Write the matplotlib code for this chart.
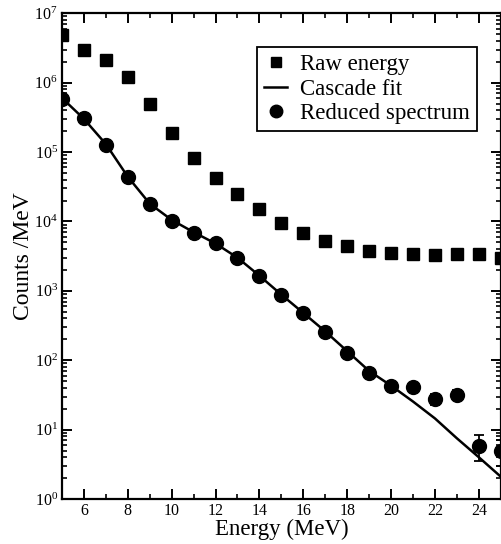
import matplotlib
matplotlib.use('Agg')
import matplotlib.pyplot as plt
from matplotlib.lines import Line2D
from matplotlib.ticker import LogLocator, MultipleLocator, NullFormatter
import numpy as np

plt.rcParams['font.family'] = ['Liberation Serif', 'DejaVu Serif']
plt.rcParams['mathtext.fontset'] = 'custom'
plt.rcParams['mathtext.rm'] = 'Liberation Serif'
plt.rcParams['mathtext.it'] = 'Liberation Serif:italic'

# energies (MeV)
energy = np.arange(5, 26)

# raw energy spectrum (squares)
raw_counts = [4.8e6, 3.0e6, 2.1e6, 1.2e6, 4.9e5, 1.9e5, 8.1e4, 4.2e4, 2.5e4, 1.5e4,
              9.4e3, 6.8e3, 5.3e3, 4.4e3, 3.7e3, 3.5e3, 3.4e3, 3.25e3, 3.4e3, 3.4e3, 3.0e3]

# reduced spectrum (circles) and errors
reduced_counts = [5.9e5, 3.1e5, 1.28e5, 4.4e4, 1.8e4, 1.0e4, 6.8e3, 4.9e3, 2.95e3, 1.65e3,
                  870, 475, 253, 126, 65, 42, 40.6, 27.3, 32, 5.9, 5.0]
reduced_err = [0, 0, 0, 0, 0, 0, 0, 0, 0, 0,
               0, 0, 0, 0, 1.5, 2, 3, 5, 5, 2.4, 2]

# cascade fit curve
fit_counts = [6.0e5, 3.0e5, 1.3e5, 4.4e4, 1.8e4, 1.05e4, 7.0e3, 4.8e3, 3.0e3, 1.65e3,
              880, 480, 260, 135, 70, 43, 25.4, 14.5, 7.5, 4.0, 2.1]

fig = plt.figure(figsize=(5.02, 5.44), dpi=100)
ax = fig.add_axes([0.1235, 0.0827, 0.874, 0.893])

ax.plot(energy, fit_counts, color='black', lw=1.8, zorder=2)
ax.plot(energy, raw_counts, 's', color='black', ms=9.2, ls='none', zorder=3)
ax.errorbar(energy, reduced_counts, yerr=reduced_err, fmt='o', color='black',
            ms=10, capsize=3.6, elinewidth=1.3, capthick=1.3, zorder=4)

ax.set_yscale('log')
ax.set_xlim(5, 25)
ax.set_ylim(1, 1e7)

ax.xaxis.set_minor_locator(MultipleLocator(1))
ax.set_xticks([6, 8, 10, 12, 14, 16, 18, 20, 22, 24])
ax.yaxis.set_major_locator(LogLocator(base=10, numticks=10))
ax.yaxis.set_minor_locator(LogLocator(base=10, subs=np.arange(2, 10), numticks=10))
ax.yaxis.set_minor_formatter(NullFormatter())

ax.tick_params(which='both', direction='in', top=True, right=True, labelsize=11.5)
ax.tick_params(which='major', length=7, width=1.4, pad=3)
ax.tick_params(which='minor', length=3.6, width=1.2)
for sp in ax.spines.values():
    sp.set_linewidth(1.6)

ax.set_xlabel('Energy (MeV)', fontsize=16.5, labelpad=0)
ax.set_ylabel('Counts /MeV', fontsize=17, labelpad=0)

handles = [
    Line2D([], [], marker='s', color='black', ls='none', ms=7.5),
    Line2D([], [], color='black', lw=1.8),
    Line2D([], [], marker='o', color='black', ls='none', ms=9),
]
labels = ['Raw energy', 'Cascade fit', 'Reduced spectrum']
leg = ax.legend(handles, labels,
                loc='upper right', bbox_to_anchor=(0.945, 0.93), fontsize=16.5,
                frameon=True, fancybox=False, edgecolor='black', framealpha=1,
                handlelength=1.0, handletextpad=0.55, borderpad=0.3,
                labelspacing=0.15, borderaxespad=0)
leg.get_frame().set_linewidth(1.3)

plt.savefig('out.png', dpi=100)
